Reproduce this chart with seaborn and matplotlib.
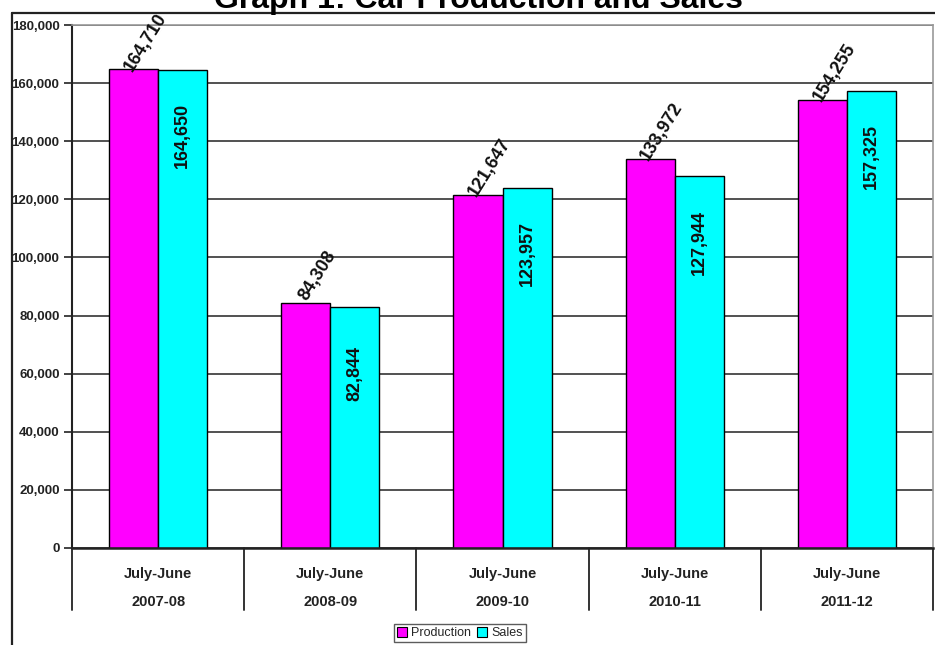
import matplotlib
matplotlib.use("Agg")
import matplotlib.pyplot as plt
import matplotlib.transforms as mtransforms
from matplotlib.patches import Patch
import seaborn as sns
import pandas as pd

years = ["2007-08", "2008-09", "2009-10", "2010-11", "2011-12"]
period = "July-June"
production = [164710, 84308, 121647, 133972, 154255]
sales = [164650, 82844, 123957, 127944, 157325]
series = ["Production", "Sales"]
colors = ["#FF00FF", "#00FFFF"]
yticks = [0, 20000, 40000, 60000, 80000, 100000, 120000, 140000, 160000, 180000]

df = pd.DataFrame({
    "year": years * 2,
    "value": production + sales,
    "series": [series[0]] * len(years) + [series[1]] * len(years),
})

sns.set_theme(style="white")
plt.rcParams["font.family"] = ["Liberation Sans", "DejaVu Sans"]

fig = plt.figure(figsize=(9.35, 6.45), dpi=100)
ax = fig.add_axes([72 / 935, 1 - 548 / 645, (933 - 72) / 935, (548 - 25) / 645])

sns.barplot(data=df, x="year", y="value", hue="series", palette=colors,
            width=0.57, edgecolor="black", linewidth=1.0, ax=ax,
            legend=False, saturation=1)

ax.set_ylim(0, 180000)
ax.set_xlim(-0.5, len(years) - 0.5)
ax.set_yticks(yticks)
ax.set_yticklabels([f"{v:,}" for v in yticks], fontsize=9.5, fontweight="bold",
                   color="#222222")
ax.tick_params(axis="y", length=6, width=1.2, color="#222222", pad=3, left=True)
ax.set_xticks(range(len(years)))
ax.set_xticklabels([f"{period}\n\n{y}" for y in years], fontsize=10.5,
                   fontweight="bold", color="#222222", linespacing=1.0)
ax.tick_params(axis="x", length=0, pad=14)
ax.set_xlabel("")
ax.set_ylabel("")
ax.yaxis.grid(True, color="#333333", linewidth=1.2)
ax.set_axisbelow(True)
for s in ["top", "right"]:
    ax.spines[s].set_color("#999999")
    ax.spines[s].set_linewidth(1.2)
ax.spines["left"].set_color("#222222")
ax.spines["left"].set_linewidth(1.5)
ax.spines["bottom"].set_color("#222222")
ax.spines["bottom"].set_linewidth(1.8)

# category dividers below axis
trans = mtransforms.blended_transform_factory(ax.transData, ax.transAxes)
for b in [i - 0.5 for i in range(len(years) + 1)]:
    ax.plot([b, b], [0, -62 / 523], transform=trans, color="#333333",
            lw=1.4, clip_on=False)

# data labels
cont_p, cont_s = ax.containers[0], ax.containers[1]
for bar, v in zip(cont_p, production):
    x = bar.get_x() + bar.get_width() / 2
    ax.annotate(f"{v:,}", (x, v), xytext=(12, 27), textcoords="offset pixels",
                rotation=58, ha="center", va="center", fontsize=13,
                fontweight="bold", color="#111111", rotation_mode="anchor")
for bar, v in zip(cont_s, sales):
    x = bar.get_x() + bar.get_width() / 2
    ax.annotate(f"{v:,}", (x, v), xytext=(0, -66), textcoords="offset pixels",
                rotation=90, ha="center", va="center", fontsize=13,
                fontweight="bold", color="#111111")

# legend
handles = [Patch(facecolor=c, edgecolor="black", lw=0.8) for c in colors]
fig.legend(handles, series, loc="center", bbox_to_anchor=(460 / 935, 1 - 633 / 645),
           ncol=2, fontsize=9, frameon=True, fancybox=False, edgecolor="#333333",
           handlelength=0.8, handleheight=0.8, handletextpad=0.3,
           columnspacing=0.5, borderpad=0.25, borderaxespad=0)

# outer frame
fig.add_artist(plt.Line2D([12 / 935, 12 / 935], [0, 1 - 13 / 645],
                          transform=fig.transFigure, color="#222222", lw=1.6))
fig.add_artist(plt.Line2D([12 / 935, 1], [1 - 13 / 645, 1 - 13 / 645],
                          transform=fig.transFigure, color="#222222", lw=1.6))

# title (partially cut at top, as in reference)
fig.text(478 / 935, 1 - 8 / 645, "Graph 1: Car Production and Sales",
         ha="center", va="baseline", fontsize=23, fontweight="bold", color="black")

fig.savefig("out.png", dpi=100)
